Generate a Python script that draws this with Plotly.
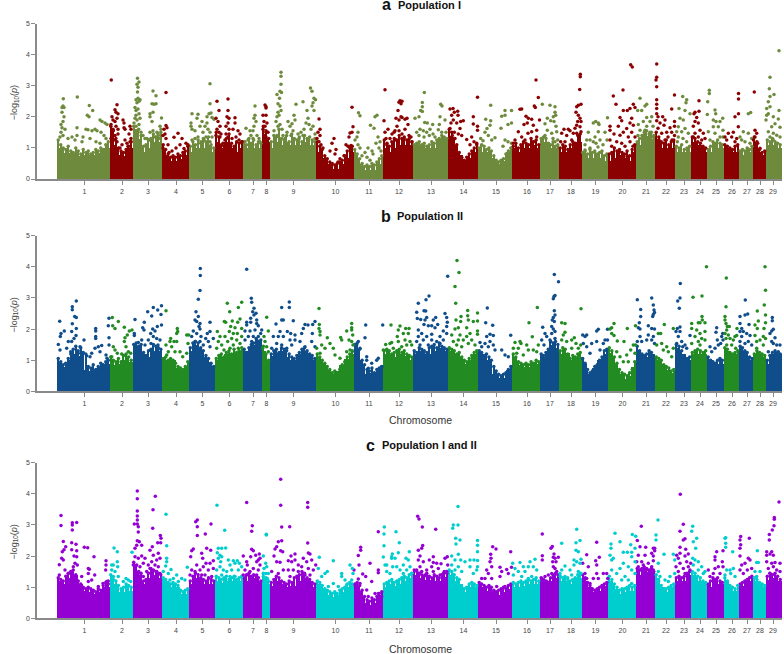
import bisect
import plotly.graph_objects as go

chrom_edges = [57,109.5,132.5,162,189,215,243,262,270,316,353.5,383,413,448,478,512,540,559,581.5,608,636,655,675,691,707,723.5,739,753,766,781.5]
chrom_ticks = [84.5,122,148,176,202.5,229.5,253,266.5,293.5,335.5,369,399,431,463.5,496,527,550,571,595.5,622.5,646,666,684,700,716,732,747,760,773]
chrom_labels = [str(i) for i in range(1,30)]

# solid mass height of each chromosome, read left to right
solid_a = [[1.0,.85,.85,.75,.8,.8,.85,1.0],[1.5,1.1,.8,.75,.8,1.0],[1.4,1.3,.9,1.0,1.2,1.2],[.8,.7,.6,.6,.65,.8],[.9,1.0,1.0,1.0,1.1,.9],[1.2,1.0,1.2,1.0,.9,1.0],[1.0,1.0,1.0,1.0],[1.4,1.2],[1.0,1.2,1.1,1.2,1.1,1.1,1.2,1.1,1.1],[.9,.7,.5,.35,.35,.5,.7,.9],[.7,.5,.3,.3,.3,.5],[1.0,.9,1.0,1.1,1.1,1.1],[1.1,1.1,1.0,1.0,1.0,1.3,1.3],[1.4,1.1,.8,.6,.7,.9],[.9,.9,.7,.5,.6,.9],[1.0,.9,1.0,1.0,1.1,1.0],[1.2,1.2,1.0,1.0],[.9,.9,1.0,1.2],[.7,.7,.7,.7,.6],[.6,.7,.8,.7,.6,.9],[1.1,1.3,1.4,1.3],[1.3,1.0,1.0,1.0],[.9,.9,.9],[1.2,1.1,.9],[.9,1.0,1.0],[1.0,.9,.9],[.8,.8,.9],[1.2,.9,.8],[1.1,1.1,1.0]]
solid_b = [[.95,.8,1.0,1.2,1.15,.7,.65,.7,.8,.9],[.95,.85,.9,1.0,1.0,.95],[1.4,1.45,1.2,1.1,1.3,1.3],[1.0,1.0,1.0,.75,.7,.8],[1.3,1.5,1.4,1.1,.95,.8],[1.0,1.1,1.2,1.2,1.2,1.3],[1.3,1.3,1.5,1.6],[1.3,1.0],[1.15,1.25,1.3,1.1,1.0,1.2,1.3,1.2,1.0],[1.1,.9,.7,.55,.65,.85,1.05,1.2],[1.45,1.0,.55,.6,.6,.75],[1.2,1.2,1.1,1.2,1.15,1.0],[1.2,1.3,1.2,1.3,1.4,1.3],[1.3,1.2,1.1,.9,1.0,1.2],[1.2,1.0,.55,.45,.45,.7],[1.1,.85,.8,.8,.9,.9],[1.1,1.1,1.5,1.4],[1.2,1.25,1.0,1.1],[.9,.55,.75,1.0,1.2],[1.25,.9,.55,.4,.5,.8],[1.3,1.2,1.1,1.2],[1.0,.9,.7,.6],[1.4,1.2,1.0],[1.2,1.2,1.2],[1.0,.9,.9],[1.3,1.2,1.2],[1.3,1.2,1.0],[1.2,1.2,1.1],[.9,1.2,1.2]]
solid_c = [[1.2,1.1,1.3,1.4,1.1,.9,.85,.8,.85,1.0],[1.2,1.1,.85,.85,.9,.9],[1.6,1.4,1.1,1.3,1.4,1.3],[1.2,1.05,1.0,1.0,.8,.8],[1.1,1.3,1.3,1.1,1.1,1.1],[1.2,1.15,1.2,1.2,1.2,1.2],[1.2,1.3,1.3,1.2],[1.3,1.1],[1.05,1.2,1.1,1.0,1.05,1.2,1.3,1.2,1.0],[1.1,.95,.75,.7,.75,.85,1.0,1.05],[1.0,.9,.5,.45,.5,.75],[1.0,1.1,1.05,1.1,1.2,1.3],[1.4,1.3,1.25,1.2,1.2,1.35],[1.4,1.2,1.1,.85,1.0,1.0],[1.0,.9,.9,.75,.85,.95],[1.0,1.0,1.05,1.1,1.1,1.1],[1.2,1.1,1.2,1.3],[1.2,1.2,1.1,1.3],[1.2,1.0,.85,.9,1.05],[1.2,.95,.8,.85,.9,.9],[1.4,1.5,1.5,1.5],[1.3,1.0,.85,1.0],[1.2,1.2,1.4],[1.4,1.2,1.1],[1.0,1.2,1.1],[1.2,.9,.9],[1.05,1.1,1.2],[1.2,1.1,1.0],[1.25,1.3,1.2]]

# ragged top edge of the mass, read left to right for each chromosome
fringe_a = [[1.25,1.1,1.0,.95,1.05,.9,.85,1.0,.9,.8,.95,.85,.9,.8,.85,.95,.9,1.0,.95,1.1,1.2],[1.7,1.55,1.3,1.0,.9,.85,.95,1.05,1.2],[1.7,1.55,1.6,1.4,1.05,1.1,1.25,1.3,1.45,1.35,1.4,1.5],[1.1,.95,.8,.7,.75,.7,.8,.75,.85,.9,1.05],[1.05,1.2,1.1,1.25,1.15,1.3,1.2,1.35,1.1,1.0],[1.5,1.35,1.1,1.05,1.3,1.45,1.15,1.05,1.2,1.15,1.2],[1.2,1.1,1.3,1.15,1.25,1.1,1.2,1.15],[1.7,1.5,1.3],[1.2,1.4,1.35,1.6,1.3,1.25,1.4,1.2,1.45,1.3,1.25,1.35,1.2,1.4,1.3,1.35,1.25,1.2],[1.2,1.05,.95,.75,.65,.55,.5,.45,.5,.55,.6,.75,.9,1.0,1.05],[.95,.8,.65,.5,.4,.45,.4,.5,.45,.55,.65,.75],[1.25,1.1,1.05,1.2,1.3,1.25,1.4,1.3,1.35,1.25,1.3,1.2],[1.1,1.15,1.2,1.1,1.15,1.05,1.1,1.2,1.15,1.25,1.3,1.4,1.35,1.3],[1.6,1.5,1.3,1.1,.85,.7,.6,.7,.8,.9,1.0,1.1],[1.0,1.1,1.05,.95,1.0,.9,.75,.6,.55,.6,.65,.8,.9,1.0],[1.05,1.15,1.0,1.1,1.2,1.15,1.1,1.3,1.2,1.25,1.1],[1.3,1.35,1.3,1.15,1.1,1.2,1.05,1.1],[1.0,1.1,1.05,.95,1.1,1.2,1.15,1.4,1.45],[.85,.9,.8,.95,.85,.9,.8,.85,.9,.75,.8],[.8,.85,1.0,.9,.95,.85,.8,.9,.75,.95,1.1],[1.2,1.3,1.4,1.5,1.55,1.45,1.5,1.4],[1.5,1.35,1.2,1.15,1.25,1.1,1.2,1.25],[1.05,1.0,1.1,.95,1.0,1.05],[1.35,1.3,1.2,1.15,1.05,1.0],[.95,1.05,1.2,1.15,1.25,1.15,1.1],[1.1,1.05,1.0,.95,1.05,1.1],[.9,.95,.9,1.0,.95,1.05],[1.35,1.2,.95,.85,.9],[1.25,1.2,1.3,1.2,1.15,1.1]]
fringe_b = [[1.05,.95,.85,.9,1.05,1.2,1.35,1.45,1.3,1.4,1.25,1.2,.8,.75,.85,.7,.8,.9,.85,.95,1.0],[1.1,1.0,.95,1.05,.95,1.15,1.2,1.1,1.0],[1.5,1.55,1.45,1.5,1.25,1.1,1.3,1.35,1.5,1.45,1.4,1.35],[1.05,1.1,1.0,1.05,1.0,.9,.8,.75,.7,.8,.95],[1.4,1.55,1.6,1.55,1.4,1.3,1.15,1.05,.9,.8],[1.05,1.15,1.2,1.1,1.25,1.3,1.2,1.35,1.25,1.3,1.4],[1.35,1.25,1.4,1.5,1.55,1.7,1.6,1.65],[1.45,1.2,1.0],[1.2,1.3,1.35,1.25,1.4,1.35,1.3,1.2,1.1,1.05,1.15,1.25,1.35,1.4,1.3,1.2,1.15,1.05],[1.2,1.1,1.0,.9,.8,.7,.6,.65,.6,.7,.85,.95,1.1,1.2,1.3],[1.5,1.55,1.35,1.0,.85,.7,.65,.75,.6,.7,.75,.8],[1.3,1.35,1.3,1.2,1.25,1.3,1.35,1.25,1.3,1.2,1.15,1.1],[1.3,1.25,1.4,1.35,1.3,1.25,1.4,1.45,1.5,1.4,1.55,1.45,1.4,1.35],[1.4,1.35,1.3,1.2,1.25,1.1,1.0,.95,1.05,1.15,1.25,1.3],[1.3,1.25,1.15,1.2,1.1,1.0,.8,.65,.55,.5,.55,.6,.7,.8],[1.2,1.1,.95,.9,.85,.9,.85,.95,.9,1.0,.95],[1.2,1.15,1.25,1.35,1.6,1.55,1.6,1.5],[1.3,1.4,1.35,1.2,1.05,1.15,1.1,1.2,1.25],[1.05,.9,.7,.6,.65,.8,.85,1.0,1.1,1.3,1.35],[1.4,1.3,1.1,.9,.7,.6,.55,.5,.6,.7,.95],[1.45,1.3,1.2,1.15,1.2,1.3,1.25,1.1],[1.1,1.05,1.0,.85,.8,.75,.65,.7],[1.5,1.45,1.3,1.15,1.05,1.1],[1.25,1.3,1.35,1.3,1.25,1.3],[1.1,1.0,.95,.9,1.0,1.05,1.0],[1.4,1.35,1.25,1.2,1.25,1.3],[1.45,1.4,1.3,1.25,1.1,1.05],[1.2,1.3,1.25,1.2,1.15],[1.0,1.15,1.25,1.3,1.25,1.2]]
fringe_c = [[1.3,1.25,1.2,1.35,1.45,1.5,1.55,1.4,1.2,1.1,1.0,.95,1.0,.95,.9,.85,.95,.9,1.05,1.15,1.2],[1.4,1.25,1.2,1.05,.95,1.0,1.1,1.05,1.0],[1.8,1.7,1.5,1.45,1.2,1.25,1.45,1.6,1.55,1.5,1.45,1.4],[1.3,1.25,1.15,1.1,1.15,1.1,1.05,.9,.85,.9,.95],[1.2,1.35,1.45,1.4,1.3,1.25,1.2,1.3,1.25,1.2],[1.35,1.3,1.25,1.3,1.35,1.25,1.3,1.35,1.25,1.3,1.35],[1.3,1.4,1.45,1.35,1.4,1.35,1.3,1.2],[1.45,1.3,1.2],[1.15,1.25,1.35,1.3,1.2,1.15,1.1,1.2,1.15,1.3,1.35,1.4,1.5,1.45,1.3,1.25,1.15,1.1],[1.2,1.15,1.05,.95,.9,.85,.8,.85,.8,.9,.95,1.0,1.1,1.15,1.1],[1.1,1.15,1.05,.9,.7,.6,.55,.65,.6,.7,.8,.85],[1.1,1.15,1.2,1.25,1.15,1.2,1.25,1.3,1.35,1.3,1.4,1.45],[1.55,1.5,1.45,1.4,1.35,1.45,1.35,1.3,1.4,1.35,1.3,1.4,1.5,1.45],[1.55,1.5,1.4,1.3,1.25,1.0,.95,1.0,1.1,1.15,1.1,1.05],[1.15,1.1,1.05,1.0,1.05,1.0,.9,.85,.9,.95,1.0,.95,1.05,1.1],[1.15,1.1,1.15,1.2,1.15,1.2,1.25,1.2,1.25,1.3,1.2],[1.3,1.25,1.2,1.15,1.3,1.4,1.45,1.4],[1.35,1.3,1.25,1.3,1.2,1.25,1.3,1.4,1.45],[1.4,1.3,1.15,1.05,.95,.9,.95,1.0,1.05,1.1,1.15],[1.35,1.25,1.1,1.0,.9,.95,.95,1.0,1.05,1.0,1.05],[1.6,1.55,1.6,1.65,1.6,1.55,1.6,1.5],[1.4,1.2,1.05,.95,.95,1.0,1.05,1.1],[1.3,1.35,1.3,1.35,1.45,1.5],[1.5,1.45,1.35,1.3,1.2,1.15],[1.1,1.2,1.3,1.25,1.3,1.2,1.15],[1.3,1.2,1.05,1.0,.95,1.05],[1.1,1.15,1.2,1.25,1.3,1.35],[1.3,1.25,1.15,1.1,1.05],[1.35,1.45,1.4,1.45,1.35,1.25]]

# scattered SNPs above the solid mass: (genome position, -log10 p)
snps_a = [
(63.3,2.58),(77.3,2.64),(89.3,2.36),(92.7,2.2),(87.3,2.05),(89,2.0),(62,2.3),(63,2.35),(64,2.3),(62,2.15),(64,2.0),(63,1.85),(61,1.75),(62,1.65),(65,1.6),(61,1.5),(60,1.35),(63,1.4),(68,1.3),(72,1.35),(75,1.25),(77,1.65),(77,1.4),(83,1.35),(86,1.6),(88,1.58),(92,1.55),(95,1.6),(97,1.55),(100,1.9),(102,1.85),(105,1.8),(107,1.75),(101,1.5),(104,1.4),(106,1.3),(82,1.2),(90,1.3),(96,1.2),(100,1.15),
(111.3,3.18),(115,2.23),(117,2.39),(116,2.15),(118,2.1),(112,2.0),(113,1.9),(115,1.85),(117,1.95),(111,1.75),(113,1.6),(116,1.7),(118,1.6),(112,1.45),(115,1.4),(118,1.45),(111,1.3),(114,1.25),(117,1.2),(123,1.9),(124,1.8),(124,1.65),(125,1.6),(130,1.7),(131,1.6),(129,1.45),(131,1.3),(130,1.2),(125,1.25),(122,1.1),(127,1.15),(120,1.0),(128,1.05),
(137.5,3.24),(139,3.12),(137,3.05),(138,2.95),(137.5,2.8),(138,2.6),(136,2.55),(139,2.5),(140,2.55),(137,2.45),(135,2.3),(136,2.2),(138,2.25),(136,2.05),(139,2.1),(135,1.95),(137,1.9),(140,1.95),(134,1.8),(136,1.7),(139,1.75),(135,1.55),(138,1.55),(141,1.5),(143,1.4),(145,1.3),(153,2.83),(156,2.68),(152,2.42),(154,2.4),(156,2.42),(150,2.1),(153,2.15),(150,2.0),(152,1.85),(161.5,1.96),(157,1.5),(160,1.7),(161,1.6),(158,1.45),(150,1.5),(153,1.55),(155,1.35),(147,1.3),(149,1.25),(159,1.3),
(166,2.78),(166,1.72),(167,1.65),(164,1.6),(165,1.45),(163,1.4),(166,1.3),(168,1.1),(163,1.0),(178,1.47),(174,1.34),(182,1.3),(186,1.15),(188,1.1),(180,1.1),(176,1.0),(184,.98),(172,.9),(169,.85),
(192,2.1),(198,2.08),(197,1.95),(191,1.8),(191,1.7),(192,1.6),(195,1.55),(202,1.85),(200,1.7),(210,3.06),(210,2.42),(209,2.1),(211,2.12),(207,2.0),(212,1.98),(214,1.92),(205,1.7),(207,1.8),(203,1.5),(208,1.6),(210,1.5),(206,1.35),(198,1.35),(195,1.3),(192,1.25),(201,1.2),(204,1.25),(212,1.35),(210,1.2),
(217,2.5),(219,2.2),(216,1.95),(218,1.85),(220,1.7),(217,1.6),(219,1.5),(221,1.45),(216,1.4),(220,1.35),(228,2.57),(228,2.2),(227,2.0),(229,1.95),(228,1.8),(226,1.7),(229,1.6),(226,1.45),(228,1.35),(225,1.25),(235,1.97),(235,1.8),(233,1.6),(238,1.55),(240,1.45),(236,1.35),(232,1.3),(242,1.2),(239,1.25),(223,1.15),
(255,2.35),(255,2.05),(254,1.95),(256,1.85),(254,1.7),(253,1.55),(246,1.63),(250,1.55),(251,1.4),(248,1.25),(253,1.3),(257,1.4),(259,1.3),(260,1.2),(245,1.2),
(265,2.38),(266,2.32),(266,2.28),(263,2.05),(266,2.05),(264,1.85),(267,1.8),(265,1.7),(263,1.6),(266,1.55),(268,1.5),(264,1.4),(266,1.35),
(281,3.43),(281,3.3),(281,3.05),(280,2.82),(281.5,2.78),(277,2.72),(279.5,2.6),(278,2.42),(280,2.35),(281,2.2),(278,2.15),(279,2.05),(277,2.0),(276,1.85),(278,1.7),(280,1.75),(274,1.55),(275,1.35),(277,1.4),(282,1.6),(283,1.4),(288,1.85),(290,1.7),(292,1.78),(294,2.05),(295,1.9),(293,1.55),(296,2.4),(303,2.48),(310.5,2.93),(312,2.82),(314,2.6),(315.5,2.55),(313,2.45),(312,2.35),(314,2.2),(307,2.2),(308,1.95),(306,1.8),(309,1.75),(311,1.6),(313,1.7),(301,1.5),(298,1.45),(304,1.6),(303,1.4),(291,1.4),(287,1.5),(285,1.3),(299,1.3),(315,1.45),(315,1.3),
(319,1.93),(320,1.6),(318,1.5),(320,1.4),(317,1.3),(319,1.2),(321,1.1),(323,1.0),(334,1.3),(332,1.15),(330,.9),(335,.8),(336,.95),(352,2.31),(350,1.48),(352,1.5),(349,1.35),(353,1.68),(346,1.1),(348,1.05),(351,1.08),(340,.65),(338,.55),(344,.75),
(358.5,2.13),(360,2.03),(370.5,1.73),(375,2.0),(377,2.05),(374,1.63),(358,1.5),(357,1.35),(355,1.25),(358,1.1),(360,1.0),(378,1.35),(380,1.2),(376,1.15),(372,.9),(368,1.0),(365,.85),(362,.75),(373,.8),(381,.9),(379,1.0),(367,.7),(370,.6),
(385,2.87),(384,1.87),(399,2.47),(400,2.52),(401,2.42),(402,2.5),(398,2.2),(401,2.0),(396,1.95),(399,1.9),(402,1.98),(405,1.92),(407,1.95),(408,1.75),(394,1.5),(385,1.5),(388,1.6),(392,1.45),(395,1.55),(397,1.7),(399,1.55),(402,1.45),(405,1.6),(409,1.4),(411,1.35),(412,1.2),(386,1.3),(390,1.3),(396,1.25),(404,1.3),(387,1.15),
(424.3,2.78),(422.3,2.46),(422.3,2.32),(420.7,2.2),(422.3,2.17),(419,2.0),(415,1.95),(440.7,2.4),(442,2.35),(440,2.0),(445,1.9),(424.7,1.82),(427.3,1.8),(432.7,1.75),(439.3,1.75),(438.3,1.58),(446,1.5),(430,1.6),(420,1.6),(416.7,1.5),(423.3,1.55),(426.7,1.5),(433,1.45),(441.7,1.5),(419,1.4),(424,1.35),(429.3,1.4),(435,1.35),
(450,2.25),(453,2.27),(457.7,2.18),(454.3,2.15),(451.7,2.05),(458,2.05),(460.7,1.85),(463.3,1.87),(453.3,1.9),(456.7,1.8),(451,1.8),(450,1.62),(460,1.62),(454.3,1.5),(458.3,1.45),(452.3,1.4),(461.7,1.4),(455,1.3),(473.3,2.0),(477.5,2.63),(473.3,1.77),(477.5,1.7),(477.5,1.57),(466.7,1.27),(471.7,1.35),(474,1.2),(476.7,1.15),(470,1.1),
(490.7,2.37),(485.7,1.92),(490.7,1.87),(505,2.2),(511.5,2.2),(505,2.05),(501.7,2.02),(501,1.63),(508,1.75),(511.5,1.8),(490,1.73),(487,1.62),(485,1.5),(488.3,1.4),(495,1.33),(480.7,1.3),(483,1.23),(491.7,1.25),(505,1.25),(508,1.2),(511.5,1.15),(503,1.05),
(536,3.18),(538.3,2.62),(534.3,2.35),(535.3,2.3),(520,2.24),(521.7,2.25),(526,2.02),(528.3,1.95),(531.7,1.92),(527.3,1.8),(524,1.75),(533.3,1.73),(536.7,1.57),(518.3,1.52),(531.7,1.52),(528,1.47),(521.7,1.35),(515,1.25),(536.7,1.35),(525,1.25),(513.3,1.15),(533.3,1.2),(539.5,1.9),
(542.3,2.4),(550,2.37),(555,2.32),(555,2.15),(553.3,2.0),(555.7,2.05),(547.3,1.95),(550.7,1.87),(545,1.78),(554,1.85),(547.3,1.57),(556,1.7),(556.7,1.52),(545,1.4),(551.7,1.47),(557.7,1.25),(555,1.2),(553,1.3),
(580.3,3.37),(580.3,3.29),(579.7,2.88),(581,2.4),(578.3,2.37),(576.7,2.32),(576,2.15),(578.3,2.05),(580,1.95),(577.7,1.85),(581,1.85),(576.7,1.73),(580,1.68),(564,1.6),(568.3,1.6),(570,1.55),(575,1.63),(561.7,1.47),(566.7,1.4),(573.3,1.47),(576.7,1.47),(581,1.52),(560.7,1.2),(565,1.2),(571.7,1.25),
(607.5,1.97),(595.7,1.85),(593.3,1.8),(598.3,1.8),(599,1.75),(588.3,1.5),(598.3,1.52),(590,1.25),(595,1.35),(600,1.25),(603,1.1),(586.7,1.25),(585,1.1),(593.3,1.2),(596,1.15),(590,1.0),(605,1.5),(607,1.25),(598,1.03),(585,.93),
(613.3,2.67),(616,2.4),(623,2.86),(630.7,3.67),(632.3,3.6),(633.3,2.4),(630,2.27),(627.3,2.2),(635,2.3),(623.3,2.2),(620,1.98),(631.7,1.95),(621.7,1.87),(610,1.7),(610,1.57),(618.3,1.7),(630,1.8),(633.3,1.73),(626.7,1.62),(623.3,1.5),(631.7,1.5),(614,1.45),(620,1.41),(628.3,1.35),(635,1.35),(610,1.25),(616.7,1.2),(630,1.2),(621.7,1.15),(611.7,1.05),(625,1.05),(633,1.05),(619.3,.88),(627,.72),(623,.5),
(640,2.6),(646.7,2.4),(645,2.35),(637.7,2.2),(641.7,2.2),(651.7,2.0),(646.7,1.98),(643.3,1.85),(650,1.85),(638.3,1.75),(646.7,1.7),(653,1.7),(640,1.57),(645,1.57),(650,1.5),(638,1.4),(643,1.4),(651.7,1.35),
(656.7,3.7),(656.7,3.27),(656,3.18),(656.7,2.97),(656.7,2.55),(674.5,2.7),(656.7,2.4),(656.7,2.27),(671.7,2.25),(656.7,2.1),(658,2),(662.7,2.0),(665,1.9),(656.7,1.87),(660,1.8),(664,1.73),(670,1.65),(674.5,1.85),(674.5,1.7),(658,1.63),(666.7,1.5),(671.7,1.5),(661.7,1.47),(668,1.35),(674.5,1.4),(659,1.25),(665,1.25),(672,1.25),
(682.7,2.65),(686.7,2.55),(686,2.45),(679,2.27),(685,2.2),(690,2.1),(680,1.95),(683.3,1.9),(678.3,1.68),(676.7,1.52),(681.7,1.52),(685,1.62),(688.3,1.47),(678.3,1.35),(683,1.3),(686.7,1.2),(677.3,1.2),
(699,2.52),(695,2.15),(699,2.18),(694,2.1),(696.7,1.98),(695,1.85),(698.3,1.8),(693.3,1.7),(700,1.57),(703.3,1.47),(695,1.47),(698.3,1.35),(701.7,1.25),(693.3,1.35),(705,1.3),
(707.7,2.48),(709.3,2.85),(709.3,2.75),(707.3,2.07),(715,2.22),(715.7,2.1),(713.3,1.9),(716,1.85),(720,1.85),(722.7,1.95),(718.3,1.68),(713.3,1.68),(723,1.57),(708.3,1.52),(715,1.47),(720,1.35),(710,1.25),(723,1.35),
(738.5,2.75),(738.5,2.57),(738.5,2.1),(735,2.0),(738.3,1.68),(733.3,1.5),(728.3,1.47),(725,1.35),(731.7,1.35),(736.7,1.3),(726.7,1.25),(735,1.2),
(750.7,2.14),(748.3,2.1),(743.3,1.52),(740,1.35),(748.3,1.47),(751.7,1.3),(741.7,1.25),(745,1.2),(750,1.15),
(754.3,2.8),(755,1.57),(756.7,1.47),(755,1.35),(753.5,1.25),(757.7,1.15),(760,.99),
(779,4.12),(770,3.27),(769.3,2.9),(774,2.72),(770,2.65),(768.3,2.48),(766.7,2.27),(779,2.2),(770,2.32),(768.3,2.1),(766.7,2.05),(766,1.9),(773.3,2.0),(778.3,1.93),(771.7,1.68),(775,1.78),(780,1.66),(768.3,1.52),(773.3,1.47),(776.7,1.41),(770,1.35),(780,1.35),(773.3,1.25),
]

snps_b = [
(76.3,2.9),(72.3,2.72),(72.3,2.62),(74.7,2.4),(76.3,2.37),(59.7,2.25),(72.3,2.17),(76.3,2.02),(64.3,1.94),(61,1.86),(60.3,1.76),(71.7,1.92),(76,1.79),(74,1.7),(71.7,1.6),(68.3,1.6),(58.3,1.5),(60,1.33),(80,1.43),(84,1.65),(95.7,2.02),(95.7,1.94),(95.7,1.76),(95.7,1.7),(101.7,1.47),(98.3,1.43),(95,1.38),(91.7,1.22),(86.7,1.14),(90,1.11),(109,2.35),(108.3,2.11),(109,1.72),(109,1.49),(106,1.17),(107,1.06),(100,1.27),(70.7,1.27),(66.7,1.38),(78.3,1.22),
(112.3,2.37),(118.3,2.24),(115,2.02),(112.7,2.11),(124.3,2.06),(132,1.97),(129.3,1.94),(127.3,1.81),(125,1.72),(124.3,1.6),(126,1.43),(113.3,1.43),(115,1.33),(117.3,1.22),(121.7,1.2),(128.3,1.27),(130.7,1.22),(111.7,1.11),
(135,2.31),(134.3,1.86),(134.3,1.79),(147.7,2.56),(153.3,2.69),(157.7,2.61),(161.5,2.75),(151.7,2.42),(161,2.47),(144.3,2.22),(161.5,2.13),(157.3,2.08),(142.7,2.04),(144,1.97),(152.7,2.0),(155,1.94),(150.7,1.86),(153.3,1.76),(156.7,1.7),(148.3,1.65),(141.7,1.65),(138.3,1.57),(160,1.65),(151,1.54),(158,1.49),(145,1.49),
(166,2.59),(177.3,2.02),(177.7,1.92),(176.7,1.86),(170.7,1.7),(174,1.6),(176.7,1.6),(186.7,1.81),(188.7,1.81),(170,1.6),(166,1.49),(171.7,1.43),(180,1.27),(188,1.54),(186.7,1.22),(166.7,1.17),(175,1.27),(168.3,1.27),(182.7,1.11),
(200.3,3.95),(200.3,3.72),(200,3.24),(198.3,2.96),(196,2.56),(198.3,2.4),(195,2.29),(196.7,2.24),(210,2.22),(200,2.18),(199,2.08),(200,2.0),(193.3,1.94),(196.7,1.86),(210,1.92),(207.3,1.86),(201,1.76),(205.7,1.7),(213.3,1.7),(191.7,1.76),(195,1.6),(200,1.6),(208.3,1.6),(203.3,1.49),(210,1.43),
(227.3,2.83),(241.7,2.86),(238.3,2.69),(229.7,2.56),(240,2.32),(224.3,2.24),(225.7,2.22),(232.3,2.26),(237.7,2.22),(217.3,1.92),(230.7,2.08),(235,2.04),(241.7,2.02),(229.3,1.92),(233.3,1.86),(237.3,1.86),(220,1.76),(225,1.76),(231.7,1.7),(236.7,1.65),(241.7,1.76),(218.3,1.6),(227.7,1.6),(240,1.54),(216.7,1.38),(221.7,1.49),(233.3,1.49),(230,1.38),(238.3,1.38),(224,1.33),
(246.7,3.92),(251.3,2.99),(251.7,2.86),(254,2.67),(252.7,2.56),(256,2.51),(254,2.45),(250.7,2.35),(246.7,2.22),(246.7,2.13),(250.7,2.22),(256.7,2.29),(256.7,2.18),(255,1.97),(258.3,2.11),(261.7,1.97),(245,1.94),(250,1.94),(260.7,1.86),(248.3,1.76),(253.3,1.76),(258.3,1.76),(245,1.65),(256.7,1.65),(251.7,1.6),
(266.7,2.38),(268.3,1.94),(264,1.76),(265,1.6),(266.7,1.43),(262.7,1.38),(268.3,1.27),
(281.7,2.69),(289.3,2.87),(289.3,2.69),(276,2.16),(281.7,2.29),(283.3,2.29),(293.3,2.27),(280,1.92),(287.3,1.92),(290.7,1.86),(295,1.81),(315,2.24),(312.7,2.15),(305,2.15),(308,2.13),(303.3,2.02),(312.3,1.86),(301.7,1.86),(273.3,1.76),(278.3,1.76),(283.3,1.76),(276.7,1.54),(271.7,1.38),(290,1.65),(295,1.65),(300,1.6),(311.7,1.6),(281.7,1.49),(291.7,1.49),(305,1.43),(315,1.43),(286.7,1.38),
(319,2.66),(319.3,2.15),(319,2.02),(320,1.92),(320,1.81),(327.3,1.72),(340.7,1.73),(341.7,1.65),(351.7,2.18),(351.7,2.04),(346.7,1.94),(351.7,1.97),(352.7,1.81),(349,1.65),(351.7,1.6),(353,1.49),(321.7,1.49),(325,1.38),(330,1.54),(333.3,1.38),(316.7,1.38),(346.7,1.27),(320,1.22),(335,1.17),(340,1.06),(350,1.33),
(365.7,2.13),(365,1.72),(382.7,2.13),(358.3,1.6),(356.7,1.49),(360,1.38),(355,1.27),(358.3,1.27),(366.7,1.11),(366.7,1.0),(378.3,1.06),(376.7,1.0),(381.7,.79),(371.7,.9),(368.3,.74),
(391,2.13),(400,2.1),(398.3,1.97),(405.7,2.02),(409,2.02),(397.3,1.76),(403.3,1.86),(408.3,1.86),(391.7,1.57),(398.3,1.6),(405,1.65),(410,1.6),(385.7,1.5),(390,1.54),(393.3,1.38),(411.7,1.49),(383.3,1.33),(406.7,1.49),(401.7,1.43),
(429,3.06),(426,2.94),(418.3,2.83),(424,2.59),(425.7,2.58),(416.7,2.54),(426.7,2.37),(435.7,2.37),(445,2.5),(417.3,2.34),(420.7,2.31),(425,2.29),(433.3,2.29),(446.7,2.37),(447.3,2.22),(428.3,2.11),(431.7,2.11),(437.7,2.15),(435,2.04),(424,2.15),(418.3,1.97),(431.7,1.83),(446.7,2.08),(443.3,1.94),(421.7,1.86),(418.3,1.76),(426.7,1.76),(440,1.76),(446.7,1.86),(416.7,1.6),(423.3,1.65),(431.7,1.65),(436.7,1.6),(443.3,1.65),(420,1.49),(428.3,1.49),(440,1.54),
(457,4.2),(459,3.82),(447.7,3.7),(455,3.37),(455.7,2.83),(467.7,2.6),(467.7,2.43),(461,2.4),(456,2.29),(460.7,2.24),(468.3,2.29),(473.3,2.24),(477.5,2.52),(477.5,2.26),(466.7,2.04),(455,2),(458.3,2.04),(451.7,1.81),(470,1.86),(477.5,1.94),(477.5,1.83),(460,1.81),(466.7,1.76),(471.7,1.65),(453.3,1.6),(463.3,1.65),(458.3,1.65),(468.3,1.54),(456.7,1.49),(475,1.49),(461.7,1.43),
(487.3,2.68),(485.7,2.2),(492.7,2.12),(510.7,1.8),(490,1.83),(486.7,1.76),(480,1.57),(493.3,1.79),(490,1.6),(485,1.54),(493.3,1.49),(501.7,1.33),(505,1.17),(481.7,1.43),(488.3,1.43),(495,1.33),(508.3,1.11),
(537.3,2.69),(529,2.2),(532.3,1.75),(520,1.6),(521,1.54),(515,1.57),(526.7,1.49),(513.3,1.38),(518.3,1.38),(538.3,1.49),(528.3,1.33),(533.3,1.33),(516.7,1.22),(523.3,1.17),(536.7,1.27),
(554.3,3.75),(558.5,3.52),(555,3.08),(553.3,2.97),(554,3.05),(554.3,2.59),(555,2.45),(553.3,2.37),(552.3,2.29),(554.3,2.24),(542.7,2.06),(551.7,2.08),(553.3,2.0),(545,1.86),(551.7,1.86),(555,1.92),(541.7,1.65),(546.7,1.76),(550,1.65),(544,1.49),(555,1.7),
(581,2.65),(561.7,2.2),(565,2.18),(565,1.9),(563.3,1.81),(574.3,1.72),(561.7,1.65),(571.7,1.65),(566.7,1.6),(576,1.54),(580.7,1.49),(571.7,1.38),(578.3,1.38),
(582.7,1.81),(586.7,1.81),(585,1.76),(598.3,1.99),(596.7,1.94),(607.5,1.99),(591.7,1.54),(596.7,1.6),(583.3,1.54),(586.7,1.43),(605,1.65),(607.5,1.65),(603.3,1.54),(600,1.33),(590,1.22),
(614,2.18),(611.7,2.04),(610,2.0),(627.3,2.02),(611.7,1.86),(614,1.79),(624,1.6),(617.3,1.62),(635.5,2.11),(635.5,1.49),(633.3,1.49),(630.7,1.33),(626.7,1.17),(620,1.11),(616.7,1.27),(635,1.22),(623.3,.95),(628.3,.95),
(637.3,2.94),(651.7,3),(653.3,2.77),(640.7,2.63),(654,2.61),(653.3,2.47),(640.7,2.4),(654.5,2.53),(652.7,2.4),(639.3,2.2),(638.3,2.04),(648.3,2.11),(640,2.0),(651.7,2.02),(654.5,2.0),(648.3,1.81),(640,1.76),(653.3,1.76),(637.3,1.6),(646.7,1.65),(641.7,1.6),(651.7,1.65),(654.5,1.54),
(664.3,2.15),(658.3,1.86),(660.7,1.86),(666.7,1.43),(661.7,1.54),(656.7,1.49),(673.3,2.02),(673.3,1.38),(668.3,1.27),(663.3,1.33),(671.7,1.11),
(680.3,3.46),(680,3),(677.7,2.9),(679.3,2.67),(680,2.07),(677.3,2.02),(676,1.92),(680,1.92),(678.3,1.76),(686.7,1.38),(681.7,1.6),(685,1.49),(676.7,1.54),(682.7,1.43),
(706.5,4),(693,3.02),(702,3.06),(702,2.4),(691.7,2.18),(698.3,2.2),(700,2.2),(702.3,2.29),(705,2.2),(691.7,2.02),(690,1.79),(696.7,1.97),(700,1.86),(705,1.92),(695,1.76),(701.7,1.7),(691.7,1.54),(698.3,1.6),(705,1.65),(700,1.49),
(716.7,2.04),(716,1.9),(722.7,1.86),(721.7,1.76),(717.3,1.65),(720.7,1.54),(710,1.43),(715,1.38),(718.3,1.49),(723,1.65),(711.7,1.27),
(726.3,3.64),(726,2.72),(725,2.4),(725,2.29),(726,2.18),(727.3,2.08),(726.7,1.97),(729.3,2.08),(725,1.86),(728.3,1.81),(726,1.7),(735,1.76),(736.7,1.79),(730,1.7),(733.3,1.65),(726.7,1.49),(731.7,1.49),(735.7,1.38),
(745.3,2.93),(740,2.4),(745,2.45),(747.7,2.48),(740,2.18),(749,2.15),(737,2.02),(741.7,2.02),(740,1.92),(743.3,1.92),(746.7,1.86),(750,1.79),(741.7,1.76),(740,1.6),(748.3,1.6),(745,1.54),(751.7,1.49),
(765,4),(765.5,3.25),(764.3,2.77),(757.3,2.58),(765.5,2.45),(758.3,2.26),(765.5,2.2),(755,2.13),(764,2.02),(757.3,2.02),(755,1.79),(763.3,1.76),(765.5,1.7),(756.7,1.6),(760,1.65),(763.3,1.49),(756.7,1.38),
(772.3,2.37),(772.3,2.27),(773.3,1.99),(771.7,1.94),(770,1.86),(775,1.72),(771.7,1.6),(780,1.49),(773.3,1.54),(776.7,1.49),(768.3,1.27),(778.3,1.27),
]

snps_c = [
(61,3.3),(61,2.98),(72.3,3.07),(72.3,3),(76.7,3.08),(72.3,2.84),(63.3,2.47),(71.7,2.43),(76,2.38),(65.7,2.3),(64,2.2),(84.3,2.28),(87.7,2.27),(71.7,2.2),(76.7,2.17),(94,1.98),(62.3,2.14),(74,2),(61.7,1.93),(63.3,1.87),(76.7,1.98),(59.3,1.72),(75,1.77),(77.3,1.71),(73.3,1.66),(106,1.85),(106,1.71),(105.7,1.55),(88.3,1.6),(89.3,1.58),(59.3,1.39),(65,1.55),(68.3,1.44),(71.7,1.5),(81.7,1.34),(88.3,1.44),(94.7,1.39),(88.3,1.18),(91.7,1.23),(103,1.12),(106.7,1.18),(98.3,1.02),(108.3,1.1),
(114,2.26),(117.3,2.14),(132,2.12),(111.7,1.71),(113.3,1.71),(117.3,1.82),(117.7,1.66),(111.7,1.55),(115,1.5),(118.3,1.34),(126,1.28),(128.3,1.23),(123.3,1.18),(130.7,1.18),(113.3,1.34),
(137.3,4.09),(137.3,3.84),(137.3,3.45),(137.3,3.29),(137.3,3.16),(137.3,3.03),(134.3,3.03),(138.3,2.94),(138.3,2.77),(155.3,3.92),(153,3.49),(152.7,2.89),(160.3,2.66),(161,2.57),(157.7,2.43),(160.7,2.43),(152.3,2.3),(137.3,2.49),(139.3,2.46),(141.7,2.35),(136.7,2.35),(135,2.25),(150,2.19),(153.3,2.03),(158.3,2.09),(141.7,2.0),(145,1.93),(135,1.98),(138.3,1.93),(160,1.93),(156.7,1.87),(151.7,1.82),(148.3,1.71),(133.3,1.71),(155,1.71),(143.3,1.77),(136.7,1.71),(140,1.66),(158.3,1.66),(150,1.6),(146.7,1.5),(135,1.5),(138.3,1.44),(156.7,1.5),(151.7,1.39),(143.3,1.34),(160,1.44),
(166,3.34),(166.7,2.33),(166.7,1.93),(166.7,1.82),(171,1.57),(165.7,1.68),(187.3,1.64),(168.3,1.44),(176.7,1.39),(173.3,1.28),(181.7,1.28),(185,1.23),(163.3,1.5),(170,1.23),(178.3,1.18),
(197.3,3.16),(195.7,3.1),(197.3,2.94),(211,3.03),(205.3,2.71),(197.3,2.66),(206.7,2.25),(201.7,2.09),(193.3,2.23),(191.7,2.17),(190.7,1.98),(202.7,1.93),(210.7,2.19),(213.3,1.85),(210,1.77),(206,1.77),(196.7,1.71),(191.7,1.55),(200,1.55),(213.3,1.6),(203.3,1.66),(208.3,1.55),(195,1.5),(205,1.39),(190,1.39),(201.7,1.39),(211.7,1.34),
(217,3.63),(224.7,2.83),(218.3,2.25),(221.7,2.25),(225.7,2.26),(217.3,2.11),(220,2.03),(221.7,1.98),(218.3,1.93),(220.7,1.82),(228.3,1.87),(233.3,1.85),(237.3,1.85),(230,1.71),(220,1.66),(239.3,1.77),(235,1.77),(241.7,1.66),(223.3,1.55),(226.7,1.5),(231.7,1.55),(216.7,1.55),(238.3,1.55),(221.7,1.39),(235,1.34),(230,1.34),
(246.7,3.72),(252.3,2.97),(251.7,2.8),(251.7,2.22),(253.3,2.17),(255.7,2.03),(259.3,2.07),(260,1.93),(243.3,2),(250.7,1.98),(246.7,1.82),(258.3,1.87),(256.7,1.82),(260,1.71),(247.3,1.71),(245,1.55),(253.3,1.6),(258.3,1.55),(250,1.5),(243.3,1.39),(248.3,1.39),(256.7,1.39),
(266.3,2.7),(266.3,2.68),(263.3,2),(265.7,1.77),(266.7,1.66),(264,1.6),(268.3,1.44),(265.7,1.44),(263.3,1.34),(267.3,1.28),
(280.7,4.47),(280.7,3.63),(281.7,2.93),(289.7,2.94),(307.7,3.72),(307.7,3.57),(307.7,2.42),(278.3,2.46),(281.7,2.49),(276.7,2.3),(275,2.23),(280.7,2.17),(282.7,2.14),(274,2),(295,2.07),(291,2),(308.3,2.1),(310,2.07),(303.3,1.93),(288.3,1.85),(295,1.87),(276.7,1.82),(280,1.8),(291.7,1.82),(298.3,1.71),(306.7,1.82),(311.7,1.87),(315.7,1.71),(288.3,1.55),(293.3,1.55),(301.7,1.66),(308.3,1.6),(313.3,1.55),(271.7,1.5),(283.3,1.55),(298.3,1.5),(305,1.39),(278.3,1.44),(290,1.34),(310,1.39),
(319.3,1.96),(333.3,1.85),(318.3,1.6),(325,1.44),(327.3,1.5),(341.7,1.44),(341.7,1.34),(350,1.71),(352.3,1.6),(353,1.44),(351.7,1.23),(333.3,1.12),(321.7,1.34),(338.3,1.02),(346.7,1.07),(328.3,1.02),(345,1.23),
(360.7,2.28),(360.7,2.19),(358.3,2.02),(370,1.77),(359,1.71),(354,1.55),(362.7,1.42),(365.7,1.34),(358.3,1.26),(378.3,1.55),(378.3,1.46),(371.7,1.18),(360,1.12),(355,1.07),(366.7,.91),(378.3,.8),(381.7,.7),(375,.8),(368.3,.7),(378.3,2.78),
(384.3,2.93),(384,2.71),(384,2.33),(383.3,1.97),(385,1.71),(386.7,1.71),(391.7,1.98),(396,2.78),(399.3,2.43),(392.3,2.07),(398.3,2.11),(409.3,2.14),(406,1.93),(408.3,1.87),(395,1.93),(391.7,1.93),(396.7,1.66),(403.3,1.71),(410,1.66),(400,1.55),(406.7,1.55),(392.7,1.66),(411.7,1.44),(403.3,1.44),(390,1.44),(386.7,1.5),
(417.7,3.28),(419,3.19),(422.3,2.93),(435.7,2.86),(422.7,2.34),(421.7,2.25),(420,2),(418.3,2.19),(429.3,1.87),(433.3,1.98),(445,1.93),(447.3,1.98),(433.3,1.79),(418.3,1.87),(423.3,1.82),(436.7,1.77),(441,1.75),(420,1.66),(431.7,1.66),(447.7,1.71),(426.7,1.55),(416.7,1.55),(438.3,1.6),(421.7,1.5),(443.3,1.44),(433.3,1.5),(425,1.39),(446.7,1.5),(440,1.39),
(458,3.59),(453.3,3),(452.7,2.89),(458,3),(455.7,2.57),(460,2.52),(456,2.39),(477.5,2.5),(477.5,2.35),(477.5,2.14),(458.3,2.06),(451.7,2),(470,1.87),(477.5,1.86),(474,1.87),(455,1.87),(460.7,1.87),(465,1.82),(477.5,1.66),(470,1.66),(451.7,1.71),(458.3,1.66),(455,1.55),(461.7,1.5),(473.3,1.44),(476.7,1.55),(453.3,1.39),
(492.7,2.3),(496,2.23),(510.7,2.14),(490.7,2.06),(491,1.93),(490,1.82),(500,1.64),(506.7,1.57),(511.5,1.64),(486.7,1.55),(501.7,1.5),(491.7,1.66),(488.3,1.44),(481.7,1.28),(485,1.28),(491.7,1.28),(500,1.34),(508.3,1.44),(505,1.02),(496.7,1.02),
(520,1.79),(512.7,1.77),(530,1.82),(535,1.9),(515,1.6),(523.3,1.66),(528.3,1.66),(533.3,1.66),(518.3,1.5),(525,1.5),(536.7,1.55),(513.3,1.39),(531.7,1.34),(521.7,1.34),(528.3,1.28),
(542.3,2.71),(552.3,2.31),(551,2.25),(554,2.07),(553.3,1.96),(542.3,2.01),(555,1.93),(558.3,1.96),(542.3,1.87),(552.7,1.82),(556,1.82),(553.3,1.66),(555,1.6),(545,1.34),(548.3,1.39),(541.7,1.28),(556.7,1.5),(551.7,1.44),(553.3,1.28),(546.7,1.18),
(561.7,2.41),(576.7,2.86),(580,2.5),(576,2.43),(576,2.19),(578.3,2.14),(581,1.9),(574,1.87),(576.7,1.82),(580,1.77),(561.7,1.55),(565,1.68),(560,1.44),(570,1.55),(574,1.71),(578.3,1.5),(565,1.34),(571.7,1.39),(581,1.44),
(596.7,2.44),(586.7,2.04),(599.3,1.96),(595.7,1.85),(582.7,1.77),(588.3,1.66),(596.7,1.71),(585,1.44),(603.3,1.44),(606.7,1.44),(596.7,1.44),(586.7,1.28),(593.3,1.28),(607.7,1.28),(598.3,1.28),(590,1.12),
(615,2.73),(620,2.46),(611,2.39),(611,2.25),(623.3,2.12),(627.3,2.12),(631.7,2.12),(632.3,2.69),(635.7,2.64),(630.7,2.36),(610,2.03),(613.3,1.93),(611.7,1.87),(635,2.25),(631.7,1.98),(623.3,1.77),(635,1.82),(628.3,1.66),(620,1.6),(611.7,1.55),(631.7,1.55),(616.7,1.44),(625,1.34),(635,1.44),(621.7,1.23),(628.3,1.23),(631.7,1.12),(626.7,.96),
(641.3,2.96),(637.3,2.5),(640,2.3),(645.7,2.28),(651.7,2.09),(654.7,2.25),(653.3,2.25),(654.7,2.17),(638.3,2.03),(645,2.03),(653.3,2.0),(636.7,1.82),(641.7,1.82),(653.3,1.85),(648.3,1.77),(638.3,1.66),(643.3,1.71),(651.7,1.66),(646.7,1.55),(640,1.55),(653.3,1.55),
(658,3.16),(656,2.68),(656,2.52),(664,2.06),(673.3,2.06),(658.3,1.77),(674.7,1.87),(674.7,1.44),(660,1.34),(670,1.34),(665,1.23),(658.3,1.5),(668.3,1.18),
(680.3,3.99),(683.3,3.02),(680,2.8),(685,2.56),(683.3,2.52),(680,2.28),(685.7,2.22),(688.3,2.07),(680,2.09),(678.3,1.93),(676.7,2.03),(685,2),(686.7,1.82),(680,1.77),(676,1.66),(683.3,1.6),(690,1.55),(688.3,1.66),(678.3,1.5),(685,1.44),(690.7,1.77),
(692.7,2.96),(691.7,2.8),(696.7,2.57),(693.3,2.46),(695.7,2.25),(692.7,1.93),(695,1.87),(698.3,1.82),(701.7,1.66),(705,1.5),(693.3,1.71),(698.3,1.55),(703.3,1.44),
(716.7,2.14),(715,1.98),(715,1.87),(723,2.17),(722.3,1.82),(718.3,1.66),(713.3,1.44),(708.3,1.55),(723,1.66),(720,1.44),(715,1.6),(710,1.34),
(725.7,2.59),(725.7,2.41),(725.7,2.28),(725,2.57),(732.7,2.14),(730,1.55),(733.3,1.6),(726.7,1.55),(730.7,1.44),(725,1.39),(735,1.34),
(740.7,2.63),(749.3,2.57),(740,2.52),(740.7,2.36),(740,2.25),(740,2),(748.3,1.93),(745,1.77),(741.7,1.71),(750,1.87),(751.7,1.6),(740,1.55),(747.3,1.55),(743.3,1.44),
(757.3,2.17),(756.7,1.79),(758.3,1.79),(755,1.5),(760,1.5),(756.7,1.34),
(779,3.74),(774.3,3.24),(774.3,3.18),(774,2.97),(772.3,2.84),(769.3,2.69),(769.3,2.52),(771.7,2.14),(766.7,2.14),(766.7,2.03),(770,2.07),(773.3,2.03),(775,1.79),(780,1.77),(766.7,1.82),(771.7,1.77),(768.3,1.6),(776.7,1.55),(773.3,1.66),(780,1.5),(770,1.44),
]

panel_titles = [("a","Population I"),("b","Population II"),("c","Population I and II")]
y_label = "\u2212log<sub>10</sub>(<i>p</i>)"
x_label = "Chromosome"

W, H = 784, 654
panels = [
 dict(solid=solid_a, fringe=fringe_a, snps=snps_a, colors=("#6E8B3D","#8B0000"), y0=179.0, y5=23.5, letter_x=380, title_x=396, title_y=5, xlab=None),
 dict(solid=solid_b, fringe=fringe_b, snps=snps_b, colors=("#104E8B","#228B22"), y0=391.3, y5=235.7, letter_x=379, title_x=395, title_y=216, xlab=420),
 dict(solid=solid_c, fringe=fringe_c, snps=snps_c, colors=("#9400D3","#00CDCD"), y0=618.3, y5=462.7, letter_x=364, title_x=380, title_y=445, xlab=649),
]

fig = go.Figure()
ann = []
for k, p in enumerate(panels):
    suf = "" if k == 0 else str(k+1)
    xa, ya = "x"+suf, "y"+suf
    for col_i, color in enumerate(p["colors"]):
        bx, bw, bh, fx, fh = [], [], [], [], []
        for c in range(29):
            if c % 2 != col_i:
                continue
            l, r = chrom_edges[c], chrom_edges[c+1]
            w = (r-l)/len(p["solid"][c])
            for j, h in enumerate(p["solid"][c]):
                bx.append(l+(j+.5)*w); bw.append(w); bh.append(h)
            w = (r-l)/len(p["fringe"][c])
            for j, h in enumerate(p["fringe"][c]):
                fx.append(l+(j+.5)*w); fh.append(h)
        fig.add_trace(go.Bar(x=bx, y=bh, width=bw, marker=dict(color=color, line=dict(width=0)),
                             xaxis=xa, yaxis=ya, showlegend=False))
        fig.add_trace(go.Bar(x=fx, y=fh, width=1.4, marker=dict(color=color, line=dict(width=0)),
                             xaxis=xa, yaxis=ya, showlegend=False))
        fig.add_trace(go.Scatter(x=fx, y=fh, mode="markers", marker=dict(color=color, size=3.5, line=dict(width=0)),
                                 xaxis=xa, yaxis=ya, showlegend=False, cliponaxis=False))
    for col_i, color in enumerate(p["colors"]):
        pts = [s for s in p["snps"] if max(0, bisect.bisect_right(chrom_edges, s[0])-1) % 2 == col_i]
        fig.add_trace(go.Scatter(x=[s[0] for s in pts], y=[s[1] for s in pts], mode="markers",
                                 marker=dict(color=color, size=3.5, line=dict(width=0)),
                                 xaxis=xa, yaxis=ya, showlegend=False, cliponaxis=False))
    dom = [1-p["y0"]/H, 1-p["y5"]/H]
    axis_common = dict(showgrid=False, zeroline=False, showline=True, linecolor="#8a8a8a", linewidth=1.5,
                       ticks="outside", tickcolor="#8a8a8a", tickwidth=1, ticklen=4, automargin=False,
                       tickfont=dict(family="Liberation Sans", size=7, color="#444"))
    fig.update_layout(**{
        "xaxis"+suf: dict(domain=[37/W, 782/W], range=[37,782], anchor=ya, tickmode="array",
                          tickvals=chrom_ticks, ticktext=chrom_labels, ticklabelstandoff=1, **axis_common),
        "yaxis"+suf: dict(domain=dom, range=[0,5], anchor=xa, tickmode="array", tickvals=[0,1,2,3,4,5], **axis_common),
    })
    ym = (p["y0"]+p["y5"])/2
    ann.append(dict(x=14/W, y=1-(ym+2)/H, xref="paper", yref="paper", text=y_label, textangle=-90, showarrow=False,
                    xanchor="center", yanchor="middle", font=dict(family="Liberation Sans", size=9, color="#444")))
    letter, title = panel_titles[k]
    ann.append(dict(x=p["letter_x"]/W, y=1-p["title_y"]/H, xref="paper", yref="paper", text="<b>%s</b>"%letter, showarrow=False,
                    xanchor="left", yanchor="middle", font=dict(family="Liberation Sans", size=16, color="#111")))
    ann.append(dict(x=p["title_x"]/W, y=1-p["title_y"]/H, xref="paper", yref="paper", text="<b>%s</b>"%title, showarrow=False,
                    xanchor="left", yanchor="middle", font=dict(family="Liberation Sans", size=11, color="#111")))
    if p["xlab"]:
        ann.append(dict(x=420/W, y=1-p["xlab"]/H, xref="paper", yref="paper", text=x_label, showarrow=False,
                        xanchor="center", yanchor="middle", font=dict(family="Liberation Sans", size=10.5, color="#333")))

fig.update_layout(width=W, height=H, margin=dict(l=0,r=0,t=0,b=0,pad=0), paper_bgcolor="white", plot_bgcolor="white",
                  barmode="overlay", bargap=0, annotations=ann, showlegend=False)
fig.write_html("out.html", config={"displayModeBar": False},
               post_script="document.body.style.margin='0';document.body.style.overflow='hidden';")
